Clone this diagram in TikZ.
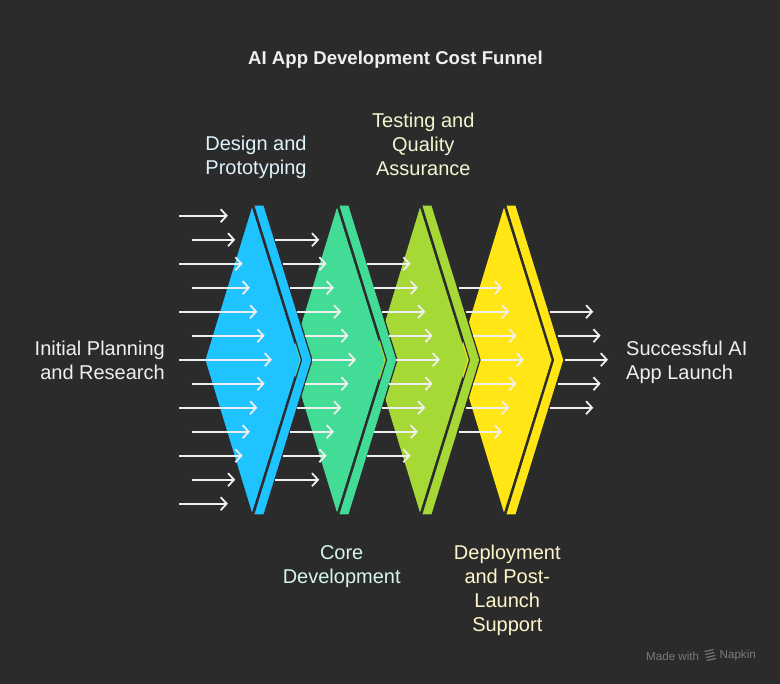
\documentclass[tikz,border=0pt]{standalone}
\usepackage{fontspec}
\setmainfont{Liberation Sans}
\usepackage{tikz}
\usetikzlibrary{arrows.meta,positioning}

\definecolor{bgdark}{HTML}{2B2B2B}
\definecolor{funnelblue}{HTML}{1EC3FF}
\definecolor{funnelgreen}{HTML}{42DC96}
\definecolor{funnellime}{HTML}{A6D936}
\definecolor{funnelyellow}{HTML}{FFE614}
\definecolor{plaintext}{HTML}{EFEFEF}
\definecolor{designtext}{HTML}{DDF2FB}
\definecolor{coretext}{HTML}{D6F6E8}
\definecolor{testtext}{HTML}{EEF8CF}
\definecolor{deploytext}{HTML}{FFF6CC}
\definecolor{napkingray}{HTML}{7A7A7A}

\tikzset{
  flowarrow/.style={plaintext, line width=1.8pt, -{Straight Barb[length=6pt,width=13pt]}},
  stagelabel/.style={align=center, inner sep=0pt, font=\fontsize{20}{24}\selectfont},
  madewith/.style={napkingray, inner sep=0pt, font=\fontsize{11.6}{14}\selectfont},
}

\begin{document}
\begin{tikzpicture}[x=1pt, y=-1pt]
		\fill[bgdark] (0,0) rectangle (780,684);
		% stages, the right one first so that the left one lies on top
		\foreach \c/\col in {504/funnelyellow, 420/funnellime, 337/funnelgreen, 252/funnelblue} {
			\filldraw[\col, draw=bgdark, line width=1.2pt] (\c+1.5,205) -- (\c+12,205) -- (\c+60,360) -- (\c+12,515) -- (\c+1.5,515) -- (\c+49.5,360) -- cycle;
			\fill[\col] (\c,207.5) -- (\c-46.5,360) -- (\c,512.5) -- (\c+47.5,360) -- cycle;
		}
		% incoming arrows
		\foreach \r in {0,...,12} {
			\pgfmathsetmacro{\d}{abs(\r-6)}
			\pgfmathsetmacro{\s}{mod(\r,2)==0 ? 179 : 191.5}
			\draw[flowarrow] (\s,215.7+24*\r) -- (272-7.35*\d,215.7+24*\r);
		}
		% arrows between the stages
		\foreach \k in {1,...,4} {
			\pgfmathtruncatemacro{\hi}{12-\k}
			\foreach \r in {\k,...,\hi} {
				\pgfmathsetmacro{\d}{abs(\r-6)}
				\draw[flowarrow] (227.7+84.3*\k-7.35*\d,215.7+24*\r) -- (272+84*\k-7.35*\d,215.7+24*\r);
			}
		}
		\node[plaintext, font=\bfseries\fontsize{18.6}{22}\selectfont] (title) at (395.5,60) {AI App Development Cost Funnel};
		\node[stagelabel, text=designtext] (design) at (256,157.5) {Design and\\Prototyping};
		\node[stagelabel, text=testtext] (testing) at (423.3,144) {Testing and\\Quality\\Assurance};
		\node[stagelabel, text=plaintext, align=right, anchor=east] (initial) at (165,360) {Initial Planning\\and Research};
		\node[stagelabel, text=plaintext, align=left, anchor=west] (launch) at (626,362) {Successful AI\\App Launch};
		\node[stagelabel, text=coretext] (core) at (341.7,567) {Core\\Development};
		\node[stagelabel, text=deploytext] (deploy) at (507.3,590) {Deployment\\and Post-\\Launch\\Support};
		\node[madewith, anchor=west] (made) at (646,656) {Made with};
		\node[madewith, anchor=east] (napkin) at (756,656) {Napkin};
		\foreach \i in {0,...,3}
			\draw[napkingray, line width=1.1pt] (704.5+0.8*\i,651.5+3*\i) -- (713.5+0.8*\i,649.5+3*\i);
	\end{tikzpicture}
\end{document}
